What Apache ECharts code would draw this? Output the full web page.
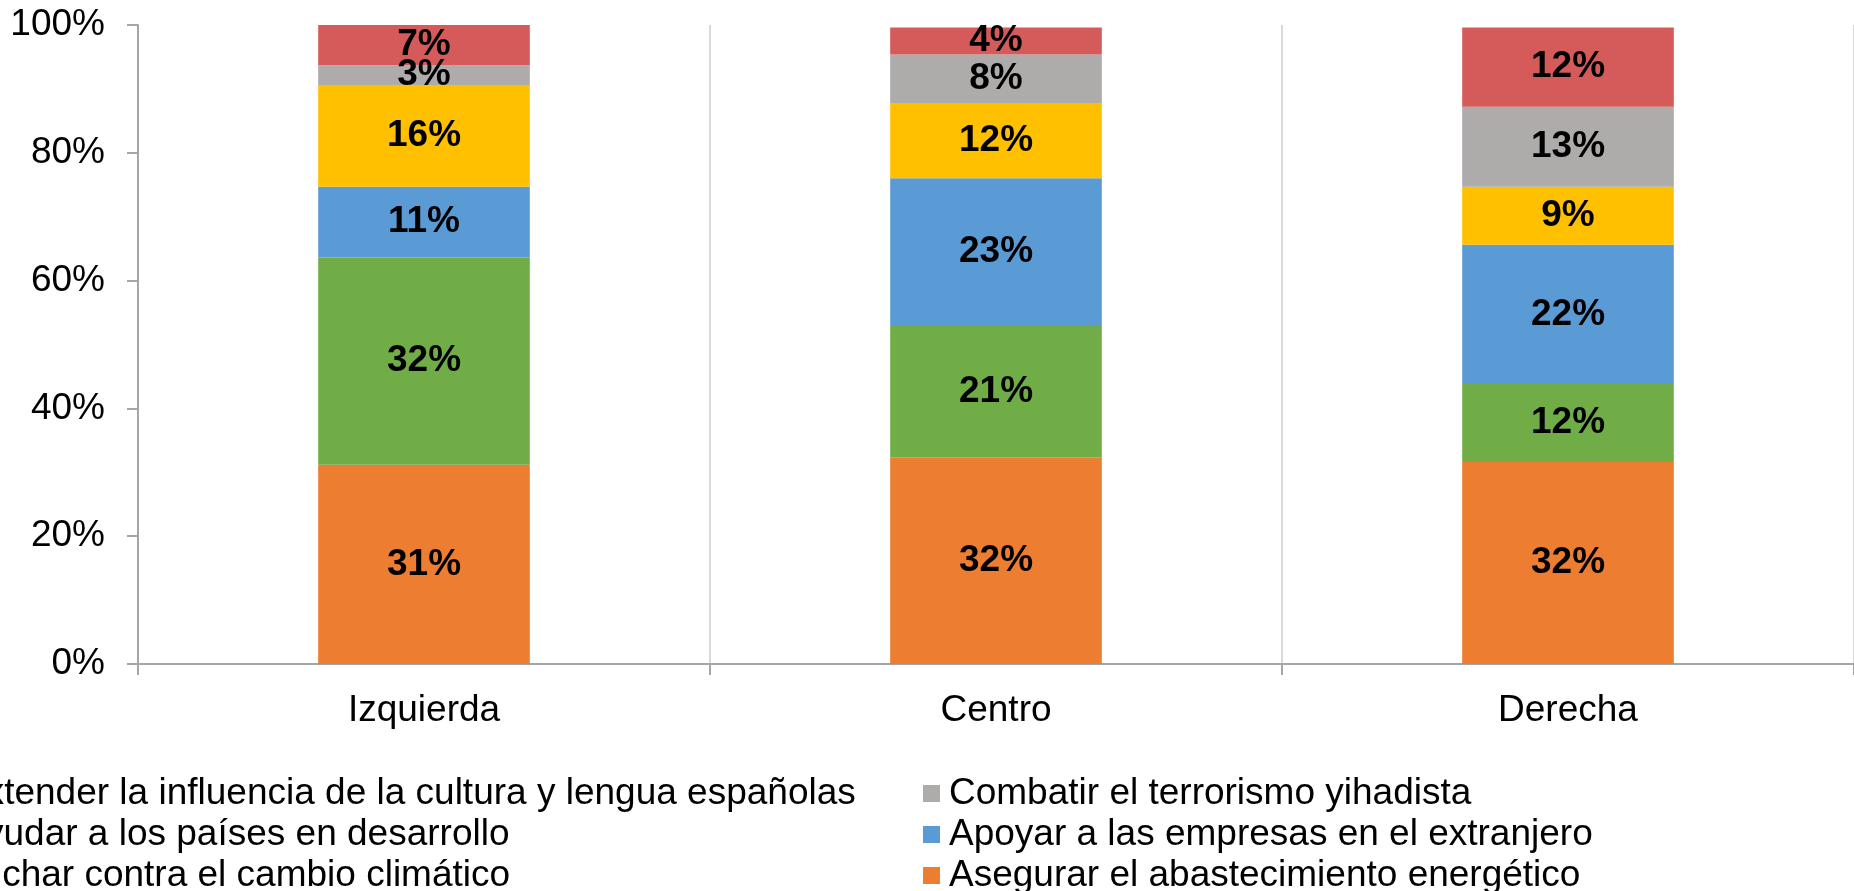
<!DOCTYPE html>
<html>
<head>
<meta charset="utf-8">
<script src="https://cdn.jsdelivr.net/npm/echarts@6/dist/echarts.min.js"></script>
<style>
html,body{margin:0;padding:0;background:#fff;}
#chart{width:1854px;height:891px;}
</style>
</head>
<body>
<div id="chart"></div>
<script>
var categories = ['Izquierda', 'Centro', 'Derecha'];
var yTicks = [0, 20, 40, 60, 80, 100];

// stacked bottom to top
var seriesNames = [
  'Asegurar el abastecimiento energético',
  'Luchar contra el cambio climático',
  'Apoyar a las empresas en el extranjero',
  'Ayudar a los países en desarrollo',
  'Combatir el terrorismo yihadista',
  'Extender la influencia de la cultura y lengua españolas'
];
var asegurar = [31.2, 32.3, 31.6];
var luchar = [32.4, 20.6, 12.2];
var apoyar = [11.1, 23.1, 21.8];
var ayudar = [15.9, 11.8, 9.1];
var combatir = [3.1, 7.6, 12.5];
var extender = [6.5, 4.2, 12.4];
var colors = ['#ED7D31', '#70AD47', '#5B9BD5', '#FFC000', '#AEABAB', '#D55B5B'];

var fontFam = '"Liberation Sans", Arial, sans-serif';
var allData = [asegurar, luchar, apoyar, ayudar, combatir, extender];

var myChart = echarts.init(document.getElementById('chart'));

var series = [];
for (var i = 0; i < seriesNames.length; i++) {
  series.push({
    name: seriesNames[i],
    type: 'bar',
    stack: 'total',
    barWidth: '37%',
    data: allData[i],
    itemStyle: {color: colors[i]},
    label: {
      show: true,
      position: 'inside',
      color: '#000',
      fontFamily: fontFam,
      fontWeight: 'bold',
      fontSize: 37,
      formatter: function (p) { return Math.round(p.value) + '%'; }
    }
  });
}

var legendText = {color: '#000', fontFamily: fontFam, fontSize: 37, lineHeight: 41, padding: [0, 0, 0, 4]};

var option = {
  animation: false,
  grid: {left: 138, top: 25, bottom: 227, width: 1724},
  legend: [{
    orient: 'vertical',
    left: -70,
    top: 768,
    height: 200,
    itemWidth: 17,
    itemHeight: 17,
    itemGap: 0,
    icon: 'rect',
    textStyle: legendText,
    data: [seriesNames[5], seriesNames[3], seriesNames[1]]
  }, {
    orient: 'vertical',
    left: 918,
    top: 768,
    height: 200,
    itemWidth: 17,
    itemHeight: 17,
    itemGap: 0,
    icon: 'rect',
    textStyle: legendText,
    data: [seriesNames[4], seriesNames[2], seriesNames[0]]
  }],
  xAxis: {
    type: 'category',
    data: categories,
    axisLine: {lineStyle: {color: '#A6A6A6', width: 2}},
    axisTick: {show: true, length: 11, lineStyle: {color: '#A6A6A6', width: 2}},
    splitLine: {show: true, lineStyle: {color: '#D9D9D9', width: 2}},
    axisLabel: {color: '#000', fontFamily: fontFam, fontSize: 37, margin: 28}
  },
  yAxis: {
    type: 'value',
    min: yTicks[0],
    max: yTicks[yTicks.length - 1],
    interval: 20,
    axisLine: {show: true, lineStyle: {color: '#A6A6A6', width: 2}},
    axisTick: {show: true, length: 11, lineStyle: {color: '#A6A6A6', width: 2}},
    splitLine: {show: false},
    axisLabel: {color: '#000', fontFamily: fontFam, fontSize: 37, margin: 33, formatter: '{value}%'}
  },
  series: series
};

myChart.setOption(option);
</script>
</body>
</html>
